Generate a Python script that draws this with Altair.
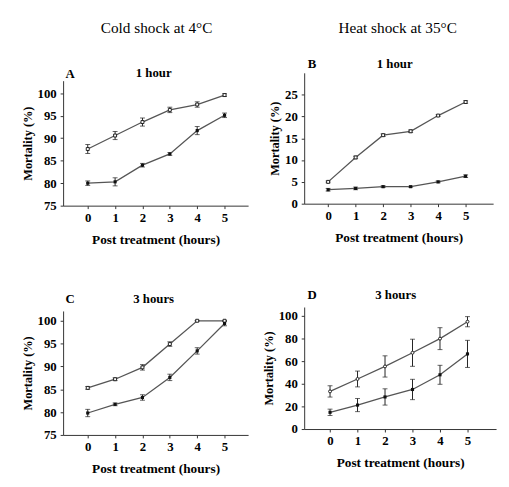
import altair as alt
import pandas as pd

hours = [0, 1, 2, 3, 4, 5]

# Panel A: cold shock at 4°C, 1 hour
a_open = [87.6, 90.6, 93.6, 96.3, 97.5, 99.6]
a_open_err = [1.0, 0.9, 0.9, 0.6, 0.6, 0.3]
a_fill = [80.0, 80.3, 84.0, 86.5, 91.7, 95.1]
a_fill_err = [0.5, 0.9, 0.4, 0.3, 0.9, 0.5]

# Panel B: heat shock at 35°C, 1 hour
b_open = [5.0, 10.6, 15.7, 16.6, 20.2, 23.3]
b_open_err = [0.2, 0.3, 0.3, 0.3, 0.2, 0.3]
b_fill = [3.2, 3.5, 3.9, 3.9, 5.0, 6.3]
b_fill_err = [0.3, 0.3, 0.2, 0.1, 0.2, 0.3]

# Panel C: cold shock at 4°C, 3 hours
c_open = [85.3, 87.2, 89.8, 94.9, 100.0, 100.0]
c_open_err = [0.3, 0.3, 0.6, 0.5, 0.0, 0.0]
c_fill = [79.8, 81.7, 83.2, 87.6, 93.4, 99.4]
c_fill_err = [0.8, 0.3, 0.6, 0.7, 0.7, 0.5]

# Panel D: heat shock at 35°C, 3 hours
d_open = [33.3, 44.3, 55.4, 67.5, 80.0, 95.0]
d_open_err = [5.0, 7.0, 9.4, 12.0, 9.7, 4.5]
d_fill = [14.8, 21.2, 28.4, 35.0, 48.0, 66.5]
d_fill_err = [2.8, 5.8, 7.2, 9.0, 8.4, 12.0]

headers = ["Cold shock at 4°C", "Heat shock at 35°C"]
letters = ["A", "B", "C", "D"]
subtitles = ["1 hour", "1 hour", "3 hours", "3 hours"]
ticks_cold = [75, 80, 85, 90, 95, 100]
ticks_b = [0, 5, 10, 15, 20, 25]
ticks_d = [0, 20, 40, 60, 80, 100]

W, H = 190, 145
FONT = "Liberation Serif"


def text_layer(txt, x, y, size=12, weight="bold"):
    return alt.Chart(pd.DataFrame({"t": [txt]})).mark_text(
        font=FONT, fontSize=size, fontWeight=weight, color="black",
        align="center", baseline="middle"
    ).encode(x=alt.value(x), y=alt.value(y), text="t:N")


def panel(opn, opn_err, fil, fil_err, ydom, yticks, yrange, xdom, xrange,
          xoffset, letter, lpos, sub, spos, header=None, open_shape="square"):
    rows = []
    for s, vals, errs in [("open", opn, opn_err), ("filled", fil, fil_err)]:
        for h, v, e in zip(hours, vals, errs):
            rows.append({"h": h, "v": v, "s": s, "lo": v - e, "hi": v + e})
    df = pd.DataFrame(rows)

    xs = alt.Scale(domain=xdom, range=xrange, nice=False, zero=False)
    ys = alt.Scale(domain=ydom, range=yrange, nice=False, zero=False)
    xa = alt.Axis(values=hours, title="Post treatment (hours)", offset=xoffset,
                  tickSize=3, labelPadding=3, titlePadding=8, format="d",
                  titleFontSize=13.5)
    ya = alt.Axis(values=yticks, title="Mortality (%)", tickSize=3,
                  labelPadding=4, titlePadding=3, format="d")
    X = alt.X("h:Q", scale=xs, axis=xa)
    base = alt.Chart(df)

    rules = base.mark_rule(color="#222", strokeWidth=1).encode(
        x=X, y=alt.Y("lo:Q", scale=ys, axis=ya), y2="hi:Q")
    cap_lo = base.mark_tick(orient="horizontal", size=5, thickness=1, color="#222").encode(
        x=X, y=alt.Y("lo:Q", scale=ys, axis=ya))
    cap_hi = base.mark_tick(orient="horizontal", size=5, thickness=1, color="#222").encode(
        x=X, y=alt.Y("hi:Q", scale=ys, axis=ya))
    lines = base.mark_line(color="#555", strokeWidth=1.3).encode(
        x=X, y=alt.Y("v:Q", scale=ys, axis=ya), detail="s:N")
    pts_open = base.transform_filter(alt.datum.s == "open").mark_point(
        shape=open_shape, size=9, filled=False, strokeWidth=1,
        color="#222", fill="white", opacity=1).encode(
        x=X, y=alt.Y("v:Q", scale=ys, axis=ya))
    pts_fill = base.transform_filter(alt.datum.s == "filled").mark_point(
        shape="square", size=10, filled=True, color="#111", opacity=1).encode(
        x=X, y=alt.Y("v:Q", scale=ys, axis=ya))
    layers = [rules, cap_lo, cap_hi, lines, pts_open, pts_fill,
              text_layer(letter, lpos[0], lpos[1], size=13),
              text_layer(sub, spos[0], spos[1], size=13)]
    if header is not None:
        layers.append(text_layer(header, 95, -34, size=15.5, weight="normal"))
    return alt.layer(*layers).properties(width=W, height=H)


pa = panel(a_open, a_open_err, a_fill, a_fill_err, [75, 102.8], ticks_cold,
           [146, 19], [-0.9, 5.86], [0, 188], 1,
           letters[0], (7, 12), subtitles[0], (92, 11), headers[0])
pb = panel(b_open, b_open_err, b_fill, b_fill_err, [0, 30], ticks_b,
           [144, 11], [-0.87, 6.0], [0, 192], -1,
           letters[1], (8, 2), subtitles[1], (92, 2), headers[1])
pc = panel(c_open, c_open_err, c_fill, c_fill_err, [75, 102.15], ticks_cold,
           [145, 19], [-0.9, 5.86], [0, 188], 0,
           letters[2], (7, 7), subtitles[2], (92, 7))
pd_ = panel(d_open, d_open_err, d_fill, d_fill_err, [0, 108], ticks_d,
            [139, 15], [-0.94, 6.04], [0, 195], -6,
            letters[3], (8, 3), subtitles[3], (93, 3), open_shape="circle")

chart = alt.concat(pa, pb, pc, pd_, columns=2, spacing=alt.RowColnumber(row=89, column=55),
                   bounds="flush").properties(
    padding={"left": 13, "top": 10, "right": 5, "bottom": 5}
).configure_view(stroke=None).configure_axis(
    grid=False, labelFont=FONT, titleFont=FONT, labelFontSize=13, titleFontSize=12.5,
    labelFontWeight="bold", titleFontWeight="bold", labelColor="black",
    titleColor="black", domainColor="#333", tickColor="#333"
)

chart.save("out.html", embed_options={"renderer": "svg", "actions": False})
